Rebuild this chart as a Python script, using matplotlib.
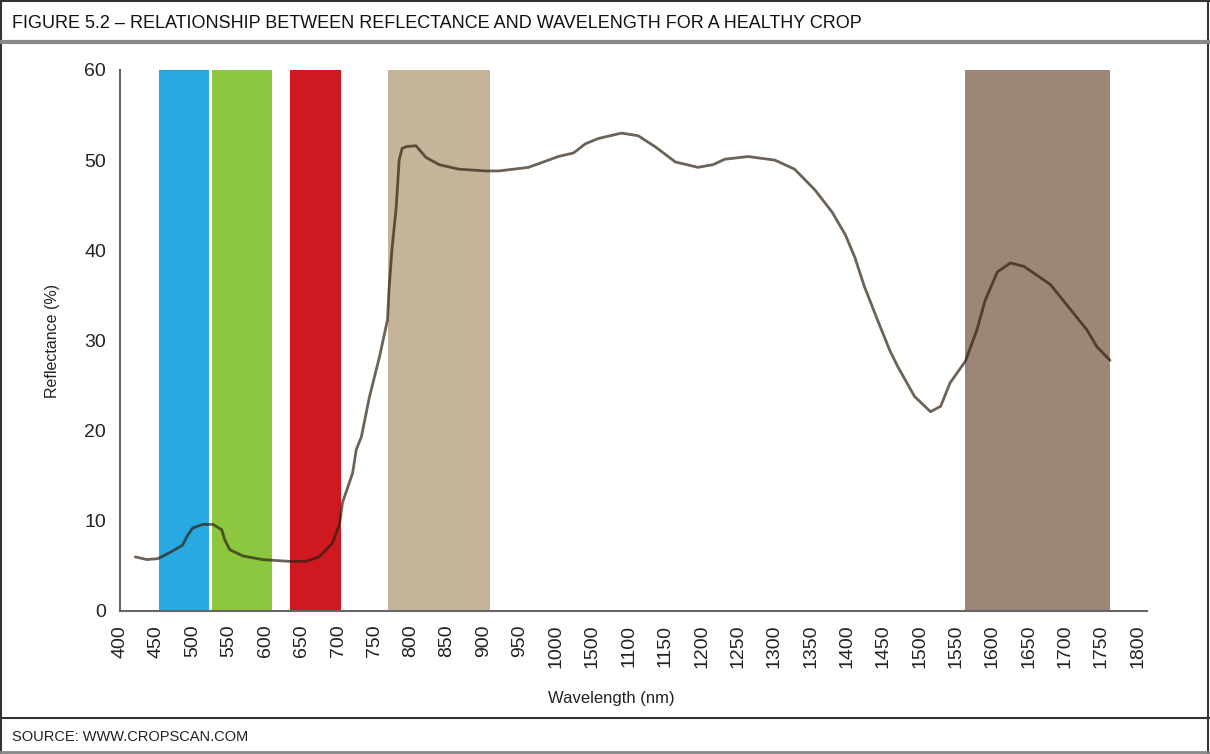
import matplotlib
matplotlib.use("Agg")
import matplotlib.pyplot as plt
from matplotlib.lines import Line2D

plt.rcParams['font.family'] = ['Liberation Sans', 'DejaVu Sans']

# data
tick_nm = list(range(400, 1801, 50))
tick_labels = ["400", "450", "500", "550", "600", "650", "700", "750", "800", "850",
               "900", "950", "1000", "1500", "1100", "1150", "1200", "1250", "1300",
               "1350", "1400", "1450", "1500", "1550", "1600", "1650", "1700", "1750", "1800"]

band_start = [453, 527, 634, 769, 1563]
band_end = [523, 609, 704, 909, 1762]
band_colors = ["#29a9e1", "#8dc63f", "#cf1820", "#c4b49a", "#9b8677"]

wavelength = [421, 437, 452, 469, 486, 493, 500, 514, 528, 540, 544, 551, 569, 596, 633,
              656, 674, 692, 702, 706, 720, 725, 732, 743, 757, 768, 770, 774, 780, 784,
              788, 794, 807, 821, 839, 866, 903, 921, 962, 1003, 1024, 1040, 1058, 1090,
              1113, 1136, 1164, 1195, 1216, 1232, 1264, 1301, 1328, 1356, 1380, 1398,
              1411, 1424, 1442, 1459, 1470, 1493, 1515, 1529, 1542, 1563, 1579, 1590,
              1607, 1625, 1644, 1680, 1703, 1730, 1744, 1762]
reflectance = [6.0, 5.7, 5.8, 6.5, 7.3, 8.4, 9.2, 9.6, 9.6, 9.0, 7.9, 6.8, 6.1, 5.7, 5.5,
               5.5, 6.0, 7.5, 9.6, 12.0, 15.3, 17.9, 19.3, 23.7, 28.2, 32.3, 35.6, 40.0,
               44.8, 50.0, 51.3, 51.5, 51.6, 50.3, 49.5, 49.0, 48.8, 48.8, 49.2, 50.4,
               50.8, 51.8, 52.4, 53.0, 52.7, 51.5, 49.8, 49.2, 49.5, 50.1, 50.4, 50.0,
               49.0, 46.7, 44.2, 41.7, 39.2, 36.0, 32.3, 28.9, 27.1, 23.8, 22.1, 22.7,
               25.3, 27.7, 31.2, 34.4, 37.6, 38.6, 38.2, 36.2, 33.9, 31.2, 29.3, 27.8]

fig = plt.figure(figsize=(12.1, 7.54), dpi=100)
ax = fig.add_axes([0.0992, 0.1897, 0.8488, 0.7175])

for s, e, c in zip(band_start, band_end, band_colors):
    ax.axvspan(s, e, ymin=0, ymax=1, color=c, lw=0, zorder=1)

ax.plot(wavelength, reflectance, color="#2e2010", alpha=0.7, lw=2.0,
        solid_capstyle="round", solid_joinstyle="round", zorder=3)

ax.set_xlim(400, 1813)
ax.set_ylim(0, 60)
ax.set_xticks(tick_nm)
ax.set_xticklabels(tick_labels, rotation=90, fontsize=14)
ax.set_yticks(range(0, 61, 10))
ax.tick_params(axis="y", labelsize=14)
ax.tick_params(length=0, pad=10, colors="#222222")
ax.set_xlabel("Wavelength (nm)", fontsize=12, color="#222222")
ax.set_ylabel("Reflectance (%)", fontsize=11.5, color="#222222")
ax.xaxis.set_label_coords(0.478, -0.148)
ax.yaxis.set_label_coords(-0.058, 0.5)

for side in ["top", "right"]:
    ax.spines[side].set_visible(False)
for side in ["left", "bottom"]:
    ax.spines[side].set_color("#666666")
    ax.spines[side].set_linewidth(1.5)

# frame, title band and footer
def hline(y, color, lw):
    fig.add_artist(Line2D([0, 1], [y, y], transform=fig.transFigure, color=color, lw=lw))

fig.add_artist(Line2D([0.0012, 0.0012], [0, 1], transform=fig.transFigure, color="#333333", lw=1.5))
fig.add_artist(Line2D([0.9985, 0.9985], [0, 1], transform=fig.transFigure, color="#333333", lw=1.5))
hline(0.999, "#333333", 1.5)
hline(1 - 42 / 754, "#888888", 3)
hline(1 - 718 / 754, "#333333", 1.5)
hline(1 - 752 / 754, "#888888", 2)

fig.text(12 / 1210, 1 - 23 / 754, "FIGURE 5.2 \u2013 RELATIONSHIP BETWEEN REFLECTANCE AND WAVELENGTH FOR A HEALTHY CROP",
         fontsize=13, va="center", ha="left", color="#111111")
fig.text(12 / 1210, 1 - 737 / 754, "SOURCE: WWW.CROPSCAN.COM",
         fontsize=10.5, va="center", ha="left", color="#222222")

fig.savefig("out.png", dpi=100)
plt.close()
